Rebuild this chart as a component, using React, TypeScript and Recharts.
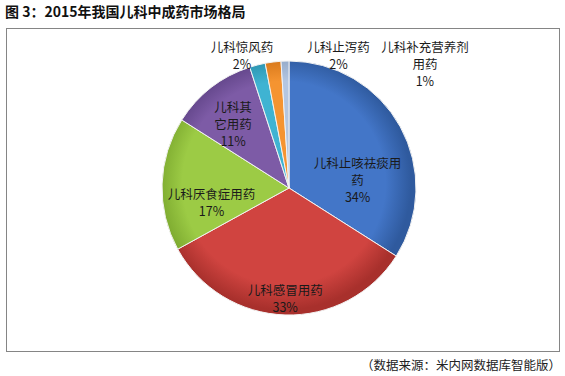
import { Cell, Pie, PieChart } from "recharts"

const names = [
  "儿科止咳祛痰用药",
  "儿科感冒用药",
  "儿科厌食症用药",
  "儿科其它用药",
  "儿科惊风药",
  "儿科止泻药",
  "儿科补充营养剂用药",
]
const shares = [34, 33, 17, 11, 2, 2, 1]

const data = names.map((name, i) => ({ name, value: shares[i] }))

const COLORS = ["#4376C8", "#D04440", "#9CCB45", "#7D5BA6", "#3FB3D2", "#F59431", "#B4C6E0"]
const DARK = ["#2F5A9E", "#A8302C", "#7BA82E", "#5E4285", "#2A8FAA", "#D27418", "#8FA6C6"]

// label placement, as offsets from the pie centre in units of the radius
const LABEL_POS = [
  [0.54, -0.07],
  [-0.03, 0.87],
  [-0.61, 0.11],
  [-0.44, -0.51],
  [-0.37, -1.05],
  [0.39, -1.05],
  [1.07, -0.98],
]
const WRAP = [7, 6, 7, 3, 5, 5, 7]

const FONT = '"Noto Sans CJK SC", "Noto Sans", sans-serif'

function renderLabel(props: any) {
  const { cx, cy, outerRadius, index, name, value } = props
  const [fx, fy] = LABEL_POS[index]
  const x = cx + fx * outerRadius
  const y = cy + fy * outerRadius
  const lines: string[] = []
  for (let i = 0; i < name.length; i += WRAP[index]) lines.push(name.slice(i, i + WRAP[index]))
  lines.push(`${value}%`)
  const lh = 17
  const top = y - ((lines.length - 1) * lh) / 2
  return (
    <text x={x} y={top} textAnchor="middle" fontSize={12.5} fontFamily={FONT} fill="#1a1a1a">
      {lines.map((l, i) => (
        <tspan key={i} x={x} y={top + i * lh} dominantBaseline="central">
          {l}
        </tspan>
      ))}
    </text>
  )
}

export default function App() {
  return (
    <div style={{ position: "absolute", left: 0, top: 0, width: 565, height: 376, background: "#fff" }}>
      <div
        style={{
          position: "absolute",
          left: 5,
          top: 1,
          fontFamily: FONT,
          fontWeight: 700,
          fontSize: 14,
          color: "#111",
          whiteSpace: "nowrap",
        }}
      >
        图 3：2015年我国儿科中成药市场格局
      </div>
      <div
        style={{
          position: "absolute",
          left: 6,
          top: 28,
          width: 552,
          height: 322,
          border: "1px solid #858585",
        }}
      />
      <div style={{ position: "absolute", left: 0, top: 0 }}>
        <PieChart width={565} height={376}>
          <defs>
            {COLORS.map((c, i) => (
              <radialGradient key={i} id={`g${i}`} cx="284" cy="183" r="127" gradientUnits="userSpaceOnUse">
                <stop offset="0%" stopColor={c} />
                <stop offset="80%" stopColor={c} />
                <stop offset="100%" stopColor={DARK[i]} />
              </radialGradient>
            ))}
          </defs>
          <Pie
            data={data}
            dataKey="value"
            nameKey="name"
            cx={284}
            cy={183}
            outerRadius={127}
            startAngle={90}
            endAngle={-270}
            stroke="#f2f2f2"
            strokeWidth={1}
            labelLine={false}
            label={renderLabel}
            isAnimationActive={false}
          >
            {data.map((entry, index) => (
              <Cell key={`cell-${index}`} fill={`url(#g${index})`} />
            ))}
          </Pie>
        </PieChart>
      </div>
      <div
        style={{
          position: "absolute",
          right: 4,
          top: 355,
          fontFamily: FONT,
          fontSize: 12.5,
          color: "#222",
          whiteSpace: "nowrap",
        }}
      >
        （数据来源：米内网数据库智能版）
      </div>
    </div>
  )
}
